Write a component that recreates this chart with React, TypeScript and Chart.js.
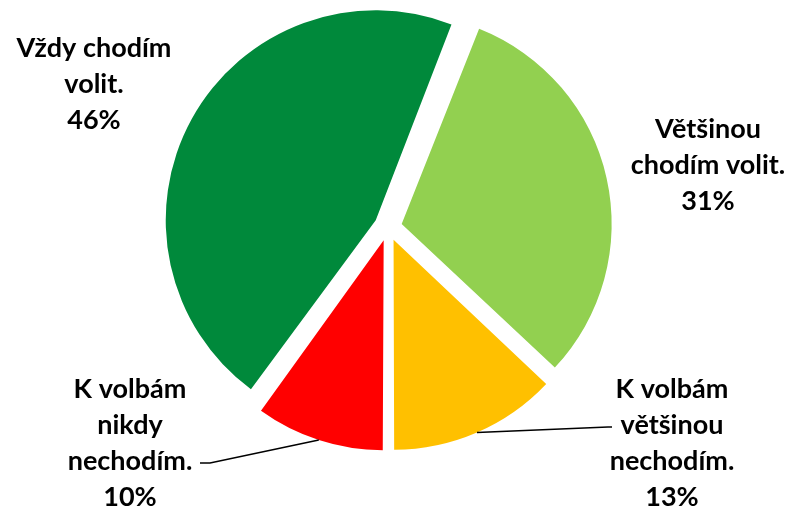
import React, { useEffect, useRef } from "react";
import { Chart, registerables } from "chart.js";

Chart.register(...registerables);

// ---- data ----
const categories = [
  "Vždy chodím volit.",
  "Většinou chodím volit.",
  "K volbám většinou nechodím.",
  "K volbám nikdy nechodím.",
];
const categoryLines = [
  ["Vždy chodím", "volit."],
  ["Většinou", "chodím volit."],
  ["K volbám", "většinou", "nechodím."],
  ["K volbám", "nikdy", "nechodím."],
];
const values = [46, 31, 13, 10];
const colors = ["#00893B", "#92D050", "#FFC000", "#FF0000"];

// ---- layout / style ----
const RADIUS = 210;
const OFFSET = 56; // chart.js translates by offset/4
const FONT = "bold 27px Lato, 'Open Sans', sans-serif";
const LINE_H = 36;
const LABEL_POS = [
  { x: 94, y: 57 },
  { x: 708, y: 138 },
  { x: 672, y: 398 },
  { x: 130, y: 398 },
];
const LEADERS: ({ x: number; y: number }[] | null)[] = [
  null,
  null,
  [{ x: 608, y: 427 }, { x: 612, y: 427 }],
  [{ x: 210, y: 463 }, { x: 200, y: 463 }],
];

const radiusFix = {
  id: "radiusFix",
  afterUpdate(chart: any) {
    const meta = chart.getDatasetMeta(0);
    meta.data.forEach((arc: any) => {
      const circ = arc.endAngle - arc.startAngle;
      const fix = 1 - Math.sin(Math.min(Math.PI, circ));
      arc.outerRadius = RADIUS - (OFFSET / 4) * fix;
    });
  },
};

const labelPlugin = {
  id: "sliceLabels",
  afterDatasetsDraw(chart: any) {
    const ctx = chart.ctx as CanvasRenderingContext2D;
    const meta = chart.getDatasetMeta(0);
    ctx.save();
    ctx.font = FONT;
    ctx.fillStyle = "#000";
    ctx.textAlign = "center";
    ctx.textBaseline = "alphabetic";
    meta.data.forEach((arc: any, i: number) => {
      const lines = [...categoryLines[i], `${values[i]}%`];
      const p = LABEL_POS[i];
      lines.forEach((t, k) => ctx.fillText(t, p.x, p.y + k * LINE_H));
      const leader = LEADERS[i];
      if (leader) {
        const h = (arc.startAngle + arc.endAngle) / 2;
        const d = OFFSET / 4 + RADIUS;
        const sx = arc.x + Math.cos(h) * d;
        const sy = arc.y + Math.sin(h) * d;
        ctx.beginPath();
        ctx.strokeStyle = "#000";
        ctx.lineWidth = 1.5;
        ctx.moveTo(sx, sy);
        leader.forEach((q) => ctx.lineTo(q.x, q.y));
        ctx.stroke();
      }
    });
    ctx.restore();
  },
};

export default function App() {
  const ref = useRef<HTMLCanvasElement>(null);
  useEffect(() => {
    if (!ref.current) return;
    const chart = new Chart(ref.current, {
      type: "pie",
      data: {
        labels: categories,
        datasets: [
          {
            data: values,
            backgroundColor: colors,
            borderWidth: 0,
            offset: OFFSET,
          },
        ],
      },
      options: {
        animation: false,
        responsive: true,
        maintainAspectRatio: false,
        events: [],
        rotation: 216,
        radius: RADIUS,
        layout: { padding: { left: 0, right: 12, top: 0, bottom: 54 } },
        plugins: {
          legend: { display: false },
          tooltip: { enabled: false },
        },
      } as any,
      plugins: [radiusFix, labelPlugin],
    });
    return () => chart.destroy();
  }, []);
  return (
    <div style={{ position: "fixed", left: 0, top: 0, width: 788, height: 508, background: "#fff" }}>
      <canvas ref={ref} />
    </div>
  );
}
